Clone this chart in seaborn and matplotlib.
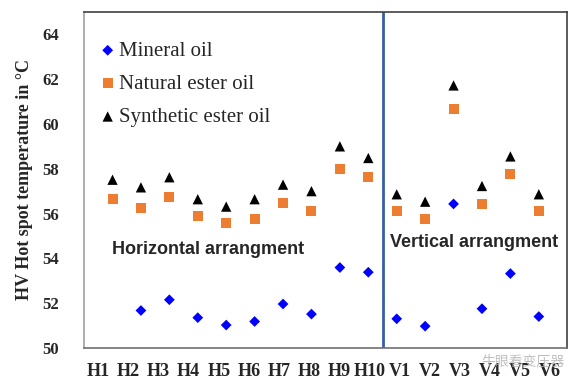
import numpy as np
import pandas as pd
import seaborn as sns
import matplotlib.pyplot as plt

categories = ["H1", "H2", "H3", "H4", "H5", "H6", "H7", "H8", "H9", "H10",
              "V1", "V2", "V3", "V4", "V5", "V6"]
mineral = [np.nan, 51.67, 52.15, 51.35, 51.02, 51.18, 51.96, 51.51, 53.59, 53.38,
           51.30, 50.97, 56.43, 51.75, 53.32, 51.40]
natural = [56.64, 56.25, 56.75, 55.89, 55.57, 55.75, 56.49, 56.12, 57.97, 57.64,
           56.10, 55.77, 60.65, 56.44, 57.76, 56.12]
synthetic = [57.51, 57.17, 57.62, 56.64, 56.31, 56.64, 57.29, 57.00, 59.00, 58.48,
             56.86, 56.53, 61.72, 57.23, 58.55, 56.86]
yticks = [50, 52, 54, 56, 58, 60, 62, 64]

df = pd.DataFrame({"pos": np.arange(1, len(categories) + 1),
                   "Mineral oil": mineral,
                   "Natural ester oil": natural,
                   "Synthetic ester oil": synthetic})

sns.set_style("white")
plt.rcParams["font.family"] = ["Liberation Serif", "DejaVu Sans"]

fig = plt.figure(figsize=(5.8, 3.87), dpi=100)
ax = fig.add_axes([0.145, 0.101, 0.833, 0.868])

sns.scatterplot(data=df, x="pos", y="Mineral oil", ax=ax, marker="D", s=30,
                color="#0000ff", edgecolor="none", label="Mineral oil")
sns.scatterplot(data=df, x="pos", y="Natural ester oil", ax=ax, marker="s", s=52,
                color="#ed7d31", edgecolor="none", label="Natural ester oil")
sns.scatterplot(data=df, x="pos", y="Synthetic ester oil", ax=ax, marker="^", s=55,
                color="black", edgecolor="none", label="Synthetic ester oil")

# divider between horizontal and vertical arrangements
ax.axvline(10.5, color="#3a5da8", lw=2)

ax.set_xlim(0, 17)
ax.set_ylim(50, 65)
ax.set_yticks(yticks)
ax.set_yticklabels([str(v) for v in yticks], fontweight="bold", fontsize=12)
# labels in the source sit a little off the points, spread evenly
ax.set_xticks(np.linspace(0.5, 16.4, len(categories)))
ax.set_xticklabels(categories, fontweight="bold", fontsize=13)
ax.tick_params(axis="both", length=0)
ax.tick_params(axis="y", pad=18)
ax.tick_params(axis="x", pad=11)
ax.set_xlabel("")
ax.set_ylabel("HV Hot spot temperature in °C", fontweight="bold", fontsize=13,
              labelpad=7)

for side, c in [("left", "#a0a0a0"), ("bottom", "#707070"),
                ("top", "#404040"), ("right", "#404040")]:
    ax.spines[side].set_visible(True)
    ax.spines[side].set_color(c)
    ax.spines[side].set_linewidth(1.2)

ax.text(0.98, 54.4, "Horizontal arrangment", fontsize=13, fontweight="bold",
        family=["Liberation Sans", "DejaVu Sans"], va="center", ha="left")
ax.text(10.77, 54.7, "Vertical arrangment", fontsize=13, fontweight="bold",
        family=["Liberation Sans", "DejaVu Sans"], va="center", ha="left")

leg = ax.legend(loc="upper left", bbox_to_anchor=(0.01, 0.938), frameon=False,
                fontsize=15, labelspacing=0.65, handletextpad=0.05,
                handlelength=1.0, markerscale=1.0, borderaxespad=0)

fig.text(0.83, 0.055, "牛眼看变压器", fontsize=10, color="#b0b0b0", alpha=0.8,
         family=["Noto Sans CJK SC", "DejaVu Sans"])

fig.savefig("out.png", dpi=100)
